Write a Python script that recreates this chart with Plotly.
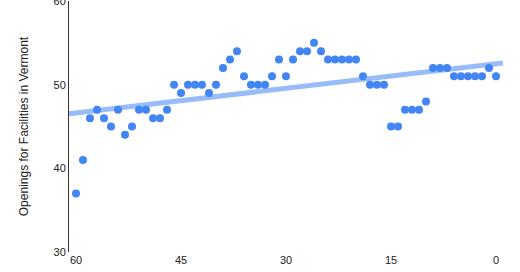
import numpy as np
import plotly.graph_objects as go

days = list(range(60, -1, -1))
openings = [37, 41, 46, 47, 46, 45, 47, 44, 45, 47, 47, 46, 46, 47, 50, 49, 50, 50, 50, 49,
            50, 52, 53, 54, 51, 50, 50, 50, 51, 53, 51, 53, 54, 54, 55, 54, 53, 53, 53, 53,
            53, 51, 50, 50, 50, 45, 45, 47, 47, 47, 48, 52, 52, 52, 51, 51, 51, 51, 51, 52, 51]
x_ticks = [60, 45, 30, 15, 0]
y_ticks = [30, 40, 50, 60]
y_title = "Openings for Facilities in Vermont"

# linear trendline over full axis span
slope, intercept = np.polyfit(days, openings, 1)
x_span = [61, -1]
trend_y = [slope * x + intercept for x in x_span]

fig = go.Figure()
fig.add_trace(go.Scatter(x=x_span, y=trend_y, mode="lines",
                         line=dict(color="rgba(66,133,244,0.55)", width=5),
                         hoverinfo="skip", showlegend=False))
fig.add_trace(go.Scatter(x=days, y=openings, mode="markers",
                         marker=dict(color="#4285f4", size=8, line=dict(width=0)),
                         showlegend=False))

fig.update_layout(
    width=520, height=272,
    margin=dict(l=69, r=17, t=1, b=20),
    paper_bgcolor="white", plot_bgcolor="white",
    font=dict(family="Liberation Sans, Arial", size=11, color="#222"),
)
fig.update_xaxes(range=[61, -1], tickvals=x_ticks, showgrid=False, zeroline=False,
                 showline=False, ticks="", automargin=False,
                 tickfont=dict(size=11, color="#222"))
fig.update_yaxes(range=[30, 60], tickvals=y_ticks, showgrid=False, zeroline=False,
                 showline=True, linecolor="#333", linewidth=1, ticks="",
                 ticklabeloverflow="allow", automargin=False,
                 tickfont=dict(size=11, color="#222"),
                 title=dict(text=y_title, font=dict(size=12, color="#222"), standoff=22))
fig.write_html("out.html")
